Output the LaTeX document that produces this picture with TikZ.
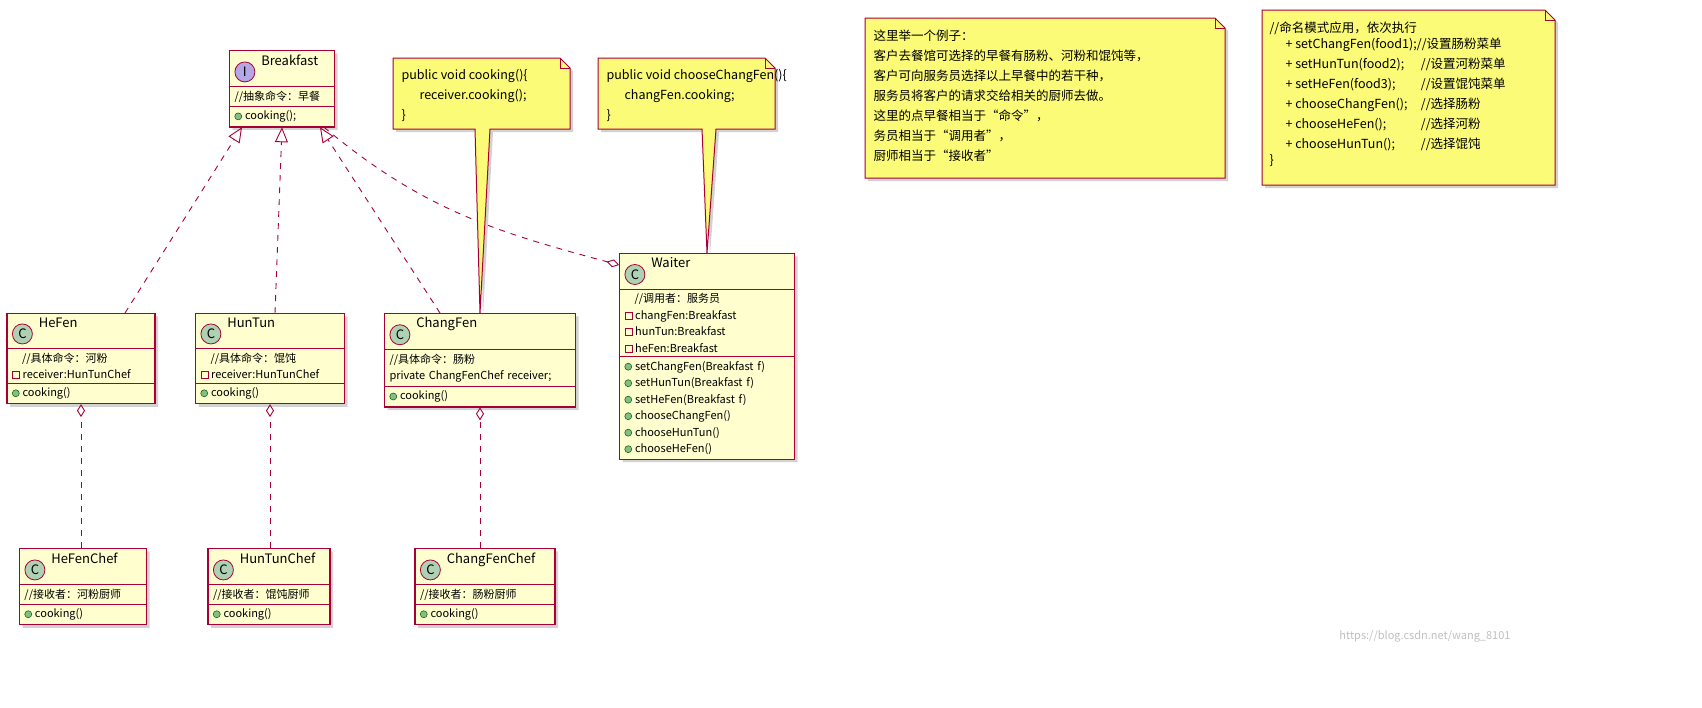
\documentclass[tikz,border=0pt]{standalone}
\usepackage{fontspec}
\setmainfont{Noto Sans CJK SC}
\usetikzlibrary{calc,shapes.multipart,arrows.meta,shadows,positioning}

\definecolor{umlred}{HTML}{A80036}
\definecolor{umlfill}{HTML}{FEFECE}
\definecolor{notefill}{HTML}{FBFB77}
\definecolor{cgreen}{HTML}{ADD1B2}
\definecolor{ipurple}{HTML}{B4A7E5}
\definecolor{pubgreen}{HTML}{84BE84}

\newcommand\umlbadge[2]{\tikz[baseline=-0.6ex]\node[circle,draw=umlred,line width=0.8pt,fill=#1,inner sep=0pt,minimum size=20pt,font=\fontsize{13}{13}\selectfont]{#2};\hspace{6pt}}
\newcommand\privmark{\tikz[baseline=0pt]\draw[umlred,line width=0.7pt] (0pt,0pt) rectangle (7pt,7pt);\hspace{3pt}}
\newcommand\pubmark{\tikz[baseline=0pt]\draw[fill=pubgreen,draw=green!35!black,line width=0.5pt] (3.5pt,3.5pt) circle (3.5pt);\hspace{3pt}}

\begin{document}
\begin{tikzpicture}[
  x=1pt, y=-1pt, scale=0.5, transform shape,
  umlclass/.style={
    draw=umlred,
    fill=umlfill,
    line width=0.6pt,
    rectangle split,
    rectangle split parts=3,
    rectangle split part align={center,left,left},
    text width=#1-10pt,
    inner xsep=5pt,
    inner ysep=4pt,
    anchor=north,
    font=\fontsize{11}{16.5}\selectfont,
    drop shadow={shadow xshift=1.5pt,shadow yshift=-1.5pt,fill=black!35}
    },
  notebox/.style={
    draw=umlred,
    fill=notefill,
    line width=0.5pt,
    drop shadow={shadow xshift=1.5pt,shadow yshift=-1.5pt,fill=black!35}
    },
  notetext/.style={anchor=north west,align=left,font=\fontsize{12.5}{20}\selectfont},
  realize/.style={umlred,dashed,line width=0.45pt,-{Triangle[open,length=7.5pt,width=6.5pt]}},
  aggr/.style={umlred,dashed,line width=0.45pt,-{Diamond[open,length=6.5pt,width=4pt]}}
]
\useasboundingbox (0,0) rectangle (1702,707);

% classes
\node[umlclass=105pt] (breakfast) at (282,50)
  {\umlbadge{ipurple}{I}{\fontsize{13}{16}\selectfont\itshape Breakfast}
  \nodepart{two}   //抽象命令：早餐
  \nodepart{three} \pubmark cooking();};
\node[umlclass=148pt] (hefen) at (81,313)
  {\umlbadge{cgreen}{C}{\fontsize{13}{16}\selectfont HeFen}
  \nodepart{two}   \hspace*{10pt}//具体命令：河粉\\ \privmark receiver:HunTunChef
  \nodepart{three} \pubmark cooking()};
\node[umlclass=149pt] (huntun) at (270,313)
  {\umlbadge{cgreen}{C}{\fontsize{13}{16}\selectfont HunTun}
  \nodepart{two}   \hspace*{10pt}//具体命令：馄饨\\ \privmark receiver:HunTunChef
  \nodepart{three} \pubmark cooking()};
\node[umlclass=191pt] (changfen) at (480,313)
  {\umlbadge{cgreen}{C}{\fontsize{13}{16}\selectfont ChangFen}
  \nodepart{two}   //具体命令：肠粉\\ private ChangFenChef receiver;
  \nodepart{three} \pubmark cooking()};
\node[umlclass=175pt] (waiter) at (707,253)
  {\umlbadge{cgreen}{C}{\fontsize{13}{16}\selectfont Waiter}
  \nodepart{two}   \hspace*{10pt}//调用者：服务员\\ \privmark changFen:Breakfast\\ \privmark hunTun:Breakfast\\ \privmark heFen:Breakfast
  \nodepart{three} \pubmark setChangFen(Breakfast f)\\ \pubmark setHunTun(Breakfast f)\\ \pubmark setHeFen(Breakfast f)\\
    \pubmark chooseChangFen()\\ \pubmark chooseHunTun()\\ \pubmark chooseHeFen()};
\node[umlclass=127pt] (hefenchef) at (83,548)
  {\umlbadge{cgreen}{C}{\fontsize{13}{16}\selectfont HeFenChef}
  \nodepart{two}   //接收者：河粉厨师
  \nodepart{three} \pubmark cooking()};
\node[umlclass=122pt] (huntunchef) at (269,548)
  {\umlbadge{cgreen}{C}{\fontsize{13}{16}\selectfont HunTunChef}
  \nodepart{two}   //接收者：馄饨厨师
  \nodepart{three} \pubmark cooking()};
\node[umlclass=140pt] (changfenchef) at (485,548)
  {\umlbadge{cgreen}{C}{\fontsize{13}{16}\selectfont ChangFenChef}
  \nodepart{two}   //接收者：肠粉厨师
  \nodepart{three} \pubmark cooking()};

% relations
\draw[realize] ($(hefen.north)+(44,0)$) -- ($(breakfast.south)+(-40,0)$);
\draw[realize] ($(huntun.north)+(5,0)$) -- ($(breakfast.south)+(0,0)$);
\draw[realize] ($(changfen.north)+(-40,0)$) -- ($(breakfast.south)+(38,0)$);
\draw[aggr] ($(breakfast.south)+(42,0)$) to[out=-40,in=165] ($(waiter.north west)+(0,12)$);
\draw[aggr] (hefenchef.north -| hefen.south) -- (hefen.south);
\draw[aggr] (huntunchef.north -| huntun.south) -- (huntun.south);
\draw[aggr] (changfenchef.north -| changfen.south) -- (changfen.south);

% notes
\draw[notebox] (393,58) -- (560,58) -- (570,68) -- (570,129) -- (490,129)
  -- (changfen.north) -- (475,129) -- (393,129) -- cycle;
\draw[umlred,line width=0.5pt] (560,58) -- (560,68) -- (570,68);
\node[notetext] (note1) at (398,66) {public void cooking()\{\\ \hspace*{18pt}receiver.cooking();\\ \}};

\draw[notebox] (598,58) -- (765,58) -- (775,68) -- (775,129) -- (716,129)
  -- (waiter.north) -- (702,129) -- (598,129) -- cycle;
\draw[umlred,line width=0.5pt] (765,58) -- (765,68) -- (775,68);
\node[notetext] (note2) at (603,66) {public void chooseChangFen()\{\\ \hspace*{18pt}changFen.cooking;\\ \}};

\draw[notebox] (865,18) -- (1215,18) -- (1225,28) -- (1225,178) -- (865,178) -- cycle;
\draw[umlred,line width=0.5pt] (1215,18) -- (1215,28) -- (1225,28);
\node[notetext] (note3) at (870,26) {这里举一个例子：\\ 客户去餐馆可选择的早餐有肠粉、河粉和馄饨等，\\ 客户可向服务员选择以上早餐中的若干种，\\
  服务员将客户的请求交给相关的厨师去做。\\ 这里的点早餐相当于“命令”，\\ 务员相当于“调用者”，\\ 厨师相当于“接收者”};

\draw[notebox] (1262,10) -- (1545,10) -- (1555,20) -- (1555,185) -- (1262,185) -- cycle;
\draw[umlred,line width=0.5pt] (1545,10) -- (1545,20) -- (1555,20);
\node[notetext] (note4) at (1266,18) {//命名模式应用，依次执行\\[-1pt]
  \begin{tabular}{@{\hspace{16pt}}l@{\hspace{4pt}}l@{}}
  + setChangFen(food1);&\hspace{-4pt}//设置肠粉菜单\\
  + setHunTun(food2);&//设置河粉菜单\\
  + setHeFen(food3);&//设置馄饨菜单\\
  + chooseChangFen();&//选择肠粉\\
  + chooseHeFen();&//选择河粉\\
  + chooseHunTun();&//选择馄饨
  \end{tabular}\\[-1pt] \}};

\node[text=black!25,font=\fontsize{11}{13}\selectfont] (mark) at (1425,636) {https://blog.csdn.net/wang\_8101};
\end{tikzpicture}
\end{document}
